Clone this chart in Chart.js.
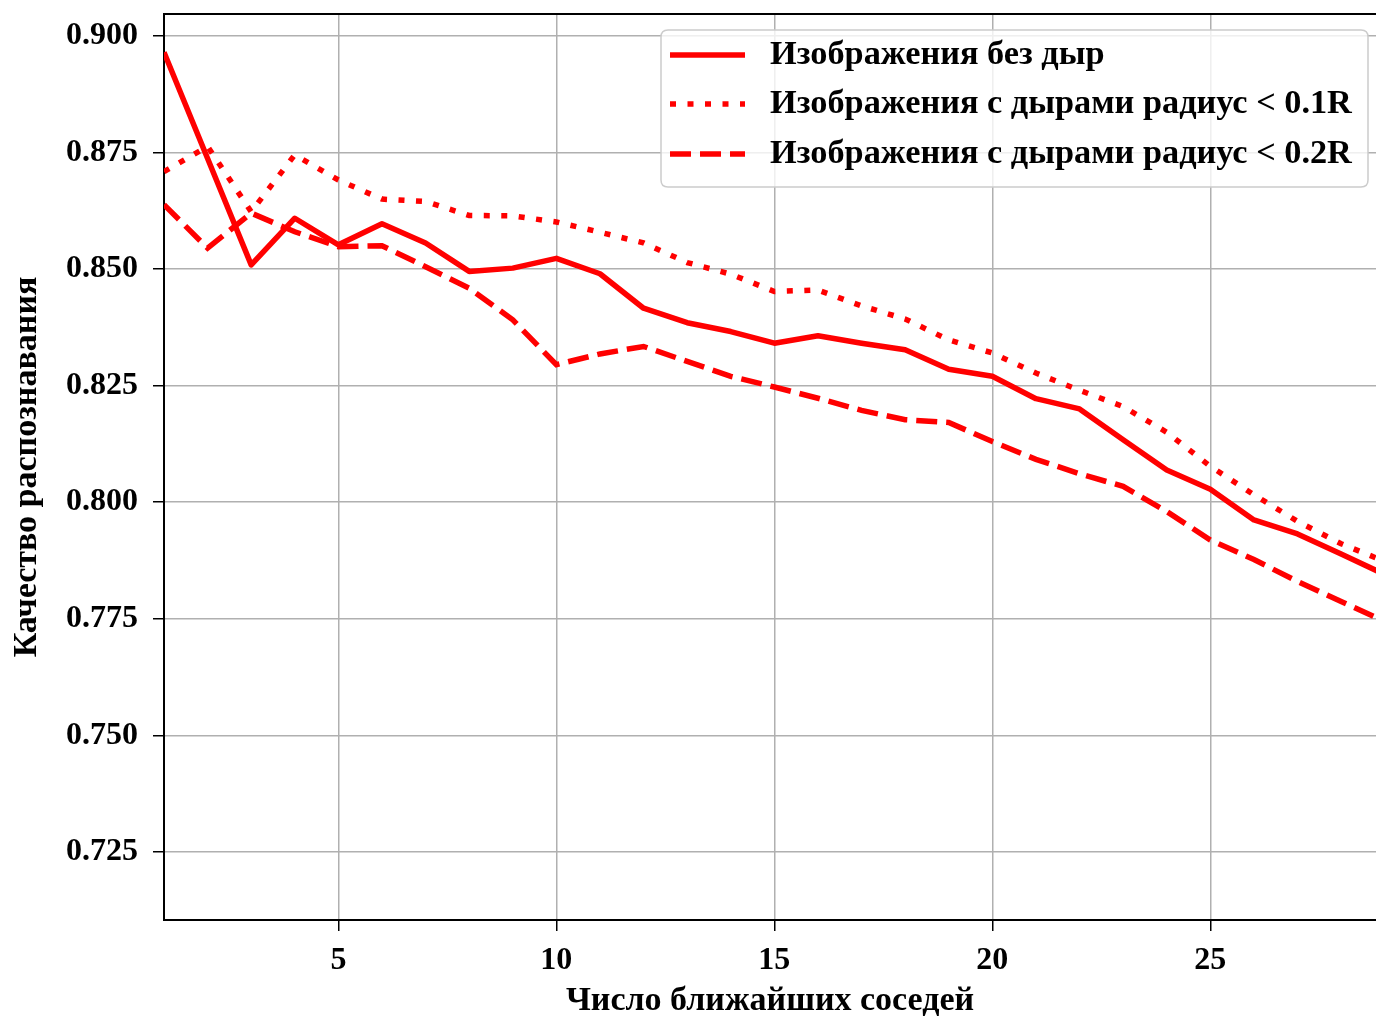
<!DOCTYPE html>
<html>
<head>
<meta charset="utf-8">
<script src="https://cdn.jsdelivr.net/npm/chart.js@4/dist/chart.umd.min.js"></script>
<style>
html,body{margin:0;padding:0;background:#fff;}
#wrap{width:1376px;height:1018px;position:relative;}
</style>
</head>
<body>
<div id="wrap"><canvas id="c" width="1376" height="1018"></canvas></div>
<script>
const kValues = [1,2,3,4,5,6,7,8,9,10,11,12,13,14,15,16,17,18,19,20,21,22,23,24,25,26,27,28,29];
const noHoles = [0.8965,0.8737,0.8509,0.8609,0.8552,0.8597,0.8556,0.8495,0.8502,0.8523,0.8490,0.8416,0.8385,0.8366,0.8341,0.8357,0.8341,0.8327,0.8285,0.8270,0.8222,0.8200,0.8134,0.8069,0.8028,0.7962,0.7932,0.7889,0.7845];
const holes01R = [0.8709,0.8763,0.8623,0.8745,0.8691,0.8650,0.8645,0.8615,0.8614,0.8601,0.8579,0.8556,0.8514,0.8489,0.8452,0.8455,0.8421,0.8393,0.8348,0.8320,0.8277,0.8240,0.8205,0.8150,0.8077,0.8016,0.7959,0.7911,0.7873];
const holes02R = [0.8638,0.8545,0.8620,0.8580,0.8548,0.8550,0.8505,0.8459,0.8391,0.8295,0.8318,0.8334,0.8302,0.8270,0.8247,0.8223,0.8197,0.8177,0.8171,0.8130,0.8092,0.8061,0.8034,0.7980,0.7919,0.7877,0.7830,0.7787,0.7744];
const seriesLabels = ['Изображения без дыр','Изображения с дырами радиус < 0.1R','Изображения с дырами радиус < 0.2R'];
const xTicks = [5,10,15,20,25];
const yTicks = [0.725,0.750,0.775,0.800,0.825,0.850,0.875,0.900];
const xTitle = 'Число ближайших соседей';
const yTitle = 'Качество распознавания';

const FONT = '"Liberation Serif", "Times New Roman", serif';
const RED = '#ff0000';

function pts(arr){ return arr.map((v,i)=>({x:kValues[i], y:v})); }

const frameAndLegend = {
  id:'frameAndLegend',
  afterDraw(chart){
    const ctx = chart.ctx, a = chart.chartArea;
    ctx.save();
    ctx.strokeStyle = '#000'; ctx.lineWidth = 2;
    ctx.beginPath(); ctx.moveTo(a.left-1, a.top); ctx.lineTo(a.right+2, a.top); ctx.stroke();
    // legend box
    const bx = 661, by = 30, bw = 707, bh = 157, r = 7;
    ctx.beginPath();
    ctx.moveTo(bx+r,by); ctx.lineTo(bx+bw-r,by); ctx.quadraticCurveTo(bx+bw,by,bx+bw,by+r);
    ctx.lineTo(bx+bw,by+bh-r); ctx.quadraticCurveTo(bx+bw,by+bh,bx+bw-r,by+bh);
    ctx.lineTo(bx+r,by+bh); ctx.quadraticCurveTo(bx,by+bh,bx,by+bh-r);
    ctx.lineTo(bx,by+r); ctx.quadraticCurveTo(bx,by,bx+r,by); ctx.closePath();
    ctx.fillStyle = 'rgba(255,255,255,0.8)'; ctx.fill();
    ctx.strokeStyle = '#cccccc'; ctx.lineWidth = 1.5; ctx.stroke();
    const rows = [55,104,154];
    chart.data.datasets.forEach((ds,i)=>{
      const y = rows[i];
      ctx.strokeStyle = ds.borderColor; ctx.lineWidth = ds.borderWidth;
      ctx.lineCap = 'butt';
      ctx.setLineDash(ds.borderDash || []);
      ctx.beginPath(); ctx.moveTo(670,y); ctx.lineTo(745,y); ctx.stroke();
      ctx.setLineDash([]);
      ctx.fillStyle = '#000';
      ctx.font = 'bold 34.3px ' + FONT;
      ctx.textBaseline = 'middle'; ctx.textAlign = 'left';
      ctx.fillText(ds.label, 770, y);
    });
    ctx.restore();
  }
};

new Chart(document.getElementById('c'), {
  type:'line',
  data:{
    datasets:[
      {label:seriesLabels[0], data:pts(noHoles), borderColor:RED, borderWidth:5.5, pointRadius:0, borderJoinStyle:'round', tension:0},
      {label:seriesLabels[1], data:pts(holes01R), borderColor:RED, borderWidth:5.5, borderDash:[6,11.5], pointRadius:0, tension:0},
      {label:seriesLabels[2], data:pts(holes02R), borderColor:RED, borderWidth:5.5, borderDash:[21,9], pointRadius:0, tension:0}
    ]
  },
  options:{
    responsive:false, animation:false,
    layout:{padding:{top:14,right:0,left:0,bottom:0}},
    plugins:{legend:{display:false}, tooltip:{enabled:false}},
    scales:{
      x:{
        type:'linear', min:1, max:28.8,
        afterBuildTicks(s){ s.ticks = xTicks.map(v=>({value:v})); },
        afterFit(s){ s.height = 98; s.paddingLeft = 0; s.paddingRight = 0; },
        grid:{color:'#b0b0b0', lineWidth:1.5, tickColor:'#000', tickLength:11, drawOnChartArea:true},
        border:{color:'#000', width:2},
        ticks:{color:'#000', font:{family:FONT, size:32, weight:'bold'}, padding:11, maxRotation:0},
        title:{display:true, text:xTitle, color:'#000', font:{family:FONT, size:34, weight:'bold', lineHeight:1.0}, padding:{top:0,bottom:0}}
      },
      y:{
        type:'linear', min:0.7104, max:0.9047,
        afterBuildTicks(s){ s.ticks = yTicks.map(v=>({value:v})); },
        afterFit(s){ s.width = 164; s.paddingTop = 0; s.paddingBottom = 0; },
        grid:{color:'#b0b0b0', lineWidth:1.5, tickColor:'#000', tickLength:11},
        border:{color:'#000', width:2},
        ticks:{color:'#000', font:{family:FONT, size:32, weight:'bold'}, padding:15, callback:v=>v.toFixed(3)},
        title:{display:true, text:yTitle, color:'#000', font:{family:FONT, size:34, weight:'bold'}, padding:{top:7,bottom:0}}
      }
    }
  },
  plugins:[frameAndLegend]
});
</script>
</body>
</html>
